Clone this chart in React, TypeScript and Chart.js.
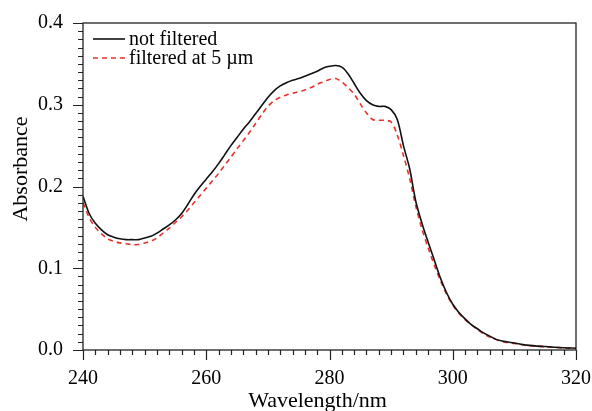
import React, { useEffect, useRef } from "react";
import { Chart, registerables } from "chart.js";

Chart.register(...registerables);

const wavelengths = [
  240, 241, 242, 243, 244, 245, 246, 247, 248, 249,
  250, 251, 252, 253, 254, 255, 256, 257, 258, 259,
  260, 261, 262, 263, 264, 265, 266, 267, 268, 269,
  270, 271, 272, 273, 274, 275, 276, 277, 278, 279,
  280, 281, 282, 283, 284, 285, 286, 287, 288, 289,
  290, 291, 292, 293, 294, 295, 296, 297, 298, 299,
  300, 301, 302, 303, 304, 305, 306, 307, 308, 310,
  312, 315, 318, 320,
];

const notFiltered = [
  0.188, 0.167, 0.155, 0.147, 0.141, 0.138, 0.136, 0.135, 0.135, 0.135,
  0.137, 0.139, 0.143, 0.148, 0.153, 0.159, 0.167, 0.178, 0.19, 0.2,
  0.209, 0.218, 0.228, 0.239, 0.25, 0.26, 0.27, 0.279, 0.289, 0.299,
  0.309, 0.317, 0.323, 0.327, 0.33, 0.332, 0.335, 0.338, 0.341, 0.345,
  0.347, 0.348, 0.346, 0.338, 0.326, 0.314, 0.305, 0.3, 0.298, 0.298,
  0.294, 0.282, 0.25, 0.222, 0.182, 0.155, 0.132, 0.11, 0.088, 0.07,
  0.056, 0.046, 0.038, 0.031, 0.026, 0.021, 0.017, 0.013, 0.011, 0.0085,
  0.006, 0.0042, 0.0028, 0.0022,
];

const filtered5um = [
  0.18, 0.162, 0.15, 0.142, 0.136, 0.133, 0.131, 0.13, 0.129, 0.129,
  0.131, 0.133, 0.137, 0.143, 0.149, 0.156, 0.163, 0.171, 0.18, 0.189,
  0.198, 0.207, 0.216, 0.226, 0.236, 0.246, 0.256, 0.266, 0.277, 0.288,
  0.298, 0.305, 0.309, 0.312, 0.314, 0.316, 0.318, 0.321, 0.325, 0.328,
  0.331, 0.332, 0.328, 0.321, 0.313, 0.301, 0.29, 0.282, 0.281, 0.281,
  0.279, 0.263, 0.238, 0.21, 0.176, 0.148, 0.125, 0.104, 0.085, 0.068,
  0.055, 0.045, 0.037, 0.031, 0.025, 0.02, 0.016, 0.013, 0.01, 0.008,
  0.0055, 0.004, 0.0025, 0.002,
];

const seriesLabels = ["not filtered", "filtered at 5 \u00b5m"];
const xTitle = "Wavelength/nm";
const yTitle = "Absorbance";

const FONT = "'Liberation Serif', 'Times New Roman', serif";

const decorPlugin = {
  id: "decor",
  afterDraw(chart: any) {
    const { ctx, chartArea } = chart;
    const xs = chart.scales.x;
    const ys = chart.scales.y;
    ctx.save();
    ctx.strokeStyle = "#222";
    ctx.lineWidth = 1.3;
    ctx.strokeRect(chartArea.left, chartArea.top, chartArea.right - chartArea.left, chartArea.bottom - chartArea.top);
    ctx.lineWidth = 1.2;
    ctx.beginPath();
    for (let v = 240; v <= 320; v += 2) {
      const px = Math.round(xs.getPixelForValue(v)) + 0.5;
      const len = v % 20 === 0 ? 10 : 5;
      ctx.moveTo(px, chartArea.bottom);
      ctx.lineTo(px, chartArea.bottom + len);
    }
    for (let i = 0; i <= 40; i++) {
      const py = Math.round(ys.getPixelForValue(i / 100)) + 0.5;
      const len = i % 10 === 0 ? 10 : 5;
      ctx.moveTo(chartArea.left, py);
      ctx.lineTo(chartArea.left - len, py);
    }
    ctx.stroke();

    // legend
    const lx0 = chartArea.left + 10;
    const lx1 = chartArea.left + 42;
    const rows = [chartArea.top + 16, chartArea.top + 35];
    chart.data.datasets.forEach((ds: any, i: number) => {
      ctx.beginPath();
      ctx.strokeStyle = ds.borderColor;
      ctx.lineWidth = ds.borderWidth;
      ctx.setLineDash(ds.borderDash || []);
      ctx.moveTo(lx0, rows[i]);
      ctx.lineTo(lx1, rows[i]);
      ctx.stroke();
      ctx.setLineDash([]);
      ctx.fillStyle = "#000";
      ctx.font = `20px ${FONT}`;
      ctx.textAlign = "left";
      ctx.textBaseline = "middle";
      ctx.fillText(ds.label, lx1 + 4, rows[i] + 1);
    });

    // axis titles
    ctx.fillStyle = "#000";
    ctx.font = `22px ${FONT}`;
    ctx.textAlign = "center";
    ctx.textBaseline = "alphabetic";
    ctx.fillText(xTitle, chartArea.left + 234.5, chartArea.bottom + 57);
    ctx.translate(27, chartArea.top + 146);
    ctx.rotate(-Math.PI / 2);
    ctx.fillText(yTitle, 0, 0);
    ctx.restore();
  },
};

export default function App() {
  const ref = useRef<HTMLCanvasElement>(null);
  useEffect(() => {
    document.body.style.margin = "0";
    const chart = new Chart(ref.current!, {
      type: "line",
      data: {
        labels: wavelengths,
        datasets: [
          {
            label: seriesLabels[0],
            data: wavelengths.map((x, i) => ({ x, y: notFiltered[i] })),
            borderColor: "#111111",
            borderWidth: 1.6,
            pointRadius: 0,
            tension: 0.3,
            fill: false,
          },
          {
            label: seriesLabels[1],
            data: wavelengths.map((x, i) => ({ x, y: filtered5um[i] })),
            borderColor: "#e5322b",
            borderWidth: 1.6,
            borderDash: [5, 4],
            pointRadius: 0,
            tension: 0.3,
            fill: false,
          },
        ],
      },
      options: {
        animation: false,
        responsive: false,
        maintainAspectRatio: false,
        layout: { padding: { top: 23, right: 16, bottom: 0, left: 0 } },
        plugins: { legend: { display: false }, tooltip: { enabled: false } },
        scales: {
          x: {
            type: "linear",
            min: 240,
            max: 320,
            grid: { display: false, drawTicks: false },
            border: { display: false },
            ticks: {
              stepSize: 20,
              padding: 17,
              color: "#000",
              font: { family: FONT, size: 20 },
              maxRotation: 0,
            },
            afterFit(scale: any) {
              scale.height = 61;
              scale.paddingLeft = 0;
              scale.paddingRight = 0;
            },
          },
          y: {
            type: "linear",
            min: 0,
            max: 0.4,
            grid: { display: false, drawTicks: false },
            border: { display: false },
            ticks: {
              stepSize: 0.1,
              padding: 20,
              color: "#000",
              font: { family: FONT, size: 20 },
              callback: (v: any) => Number(v).toFixed(1),
            },
            afterFit(scale: any) {
              scale.width = 83;
              scale.paddingTop = 0;
              scale.paddingBottom = 0;
            },
          },
        },
      },
      plugins: [decorPlugin],
    } as any);
    return () => chart.destroy();
  }, []);
  return (
    <div style={{ width: 592, height: 411 }}>
      <canvas ref={ref} width={592} height={411} />
    </div>
  );
}
